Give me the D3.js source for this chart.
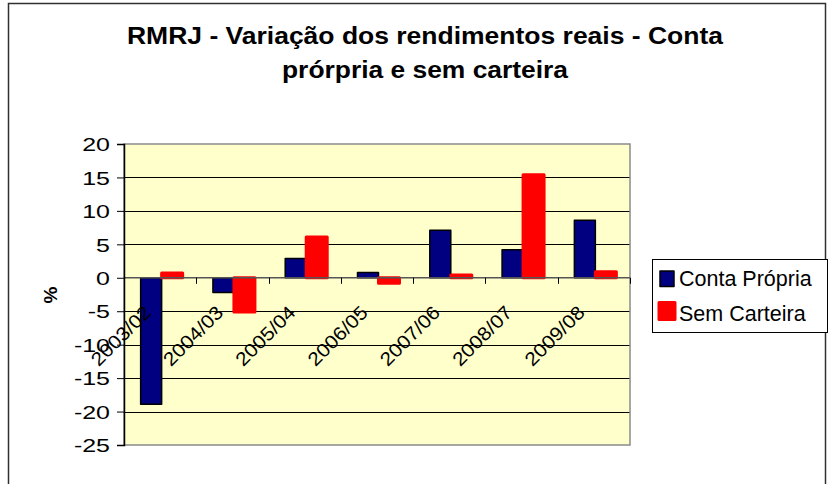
<!DOCTYPE html>
<html>
<head>
<meta charset="utf-8">
<script src="https://cdn.jsdelivr.net/npm/d3@7"></script>
<style>
  html, body { margin: 0; padding: 0; background: #ffffff; }
  svg { display: block; font-family: "Liberation Sans", Arial, sans-serif; }
</style>
</head>
<body>
<svg id="chart" width="829" height="484"></svg>
<script>
// Periods compared (year over previous year)
const categories = ["2003/02", "2004/03", "2005/04", "2006/05", "2007/06", "2008/07", "2009/08"];
const seriesNames = ["Conta Própria", "Sem Carteira"];
// Real income variation, % — own-account workers
const contaPropria = [-18.9, -2.2, 2.9, 0.8, 7.1, 4.2, 8.6];
// Real income variation, % — employees without a signed work card
const semCarteira = [0.7, -5.1, 6.1, -0.8, 0.4, 15.4, 0.9];
const yTicks = [20, 15, 10, 5, 0, -5, -10, -15, -20, -25];
const titleLines = ["RMRJ - Variação dos rendimentos reais - Conta", "prórpria e sem carteira"];

const svg = d3.select("#chart");

// Outer chart frame
svg.append("rect")
  .attr("x", 8.5).attr("y", 3.5)
  .attr("width", 817).attr("height", 500)
  .attr("fill", "#ffffff").attr("stroke", "#303030").attr("stroke-width", 1.5);

// Title
const titleW = [596, 286];
svg.append("g").selectAll("text")
  .data(titleLines)
  .join("text")
  .attr("x", (d, i) => 425 - titleW[i] / 2)
  .attr("y", (d, i) => 43.5 + i * 34)
  .attr("textLength", (d, i) => titleW[i])
  .attr("lengthAdjust", "spacingAndGlyphs")
  .attr("font-size", 23)
  .attr("font-weight", "bold")
  .attr("fill", "#000")
  .text(d => d);

// Plot area
const plot = { left: 124, right: 630, top: 144, bottom: 445 };

const x0 = d3.scaleBand()
  .domain(categories)
  .range([plot.left, plot.right])
  .padding(0);

const y = d3.scaleLinear()
  .domain([-25, 20])
  .range([plot.bottom, plot.top]);

const x1 = d3.scaleBand()
  .domain(seriesNames)
  .range([x0.bandwidth() / 2 - 19.5, x0.bandwidth() / 2 + 22.5])
  .padding(0);

svg.append("rect")
  .attr("x", plot.left).attr("y", plot.top)
  .attr("width", plot.right - plot.left).attr("height", plot.bottom - plot.top)
  .attr("fill", "#ffffcc");

// Horizontal gridlines
svg.append("g").selectAll("line")
  .data(yTicks.filter(v => v !== 20 && v !== -25 && v !== 0))
  .join("line")
  .attr("x1", plot.left).attr("x2", plot.right)
  .attr("y1", d => Math.round(y(d)) + 0.5).attr("y2", d => Math.round(y(d)) + 0.5)
  .attr("stroke", "#000").attr("stroke-width", 1);

// Plot border
svg.append("rect")
  .attr("x", plot.left).attr("y", plot.top)
  .attr("width", plot.right - plot.left).attr("height", plot.bottom - plot.top)
  .attr("fill", "none").attr("stroke", "#8a8a8a").attr("stroke-width", 1.5);

// Bars
const values = { "Conta Própria": contaPropria, "Sem Carteira": semCarteira };
const colors = { "Conta Própria": "#000080", "Sem Carteira": "#ff0000" };
const strokes = { "Conta Própria": "#000000", "Sem Carteira": "#ff0000" };
const strokeW = { "Conta Própria": 1.5, "Sem Carteira": 3 };

seriesNames.forEach(name => {
  svg.append("g").selectAll("rect")
    .data(categories.map((c, i) => ({ c, v: values[name][i] })))
    .join("rect")
    .attr("x", d => x0(d.c) + x1(name))
    .attr("width", x1.bandwidth())
    .attr("y", d => y(Math.max(0, d.v)))
    .attr("height", d => Math.abs(y(d.v) - y(0)))
    .attr("fill", colors[name])
    .attr("stroke", strokes[name])
    .attr("stroke-width", strokeW[name])
    .attr("stroke-linejoin", "round");
});

// Category axis along zero
const xAxis = svg.append("g");
xAxis.append("line")
  .attr("x1", plot.left).attr("x2", plot.right)
  .attr("y1", y(0)).attr("y2", y(0))
  .attr("stroke", "#555").attr("stroke-width", 1.5);
xAxis.selectAll("line.tick")
  .data(categories.slice(1).map(c => x0(c)).concat([plot.right]))
  .join("line")
  .attr("class", "tick")
  .attr("x1", d => Math.round(d) + 0.5).attr("x2", d => Math.round(d) + 0.5)
  .attr("y1", y(0)).attr("y2", y(0) + 6)
  .attr("stroke", "#000").attr("stroke-width", 1);

xAxis.selectAll("text")
  .data(categories)
  .join("text")
  .attr("transform", c => `translate(${x0(c) + x0.bandwidth() / 2 - 8},${y(0) + 36}) rotate(-45) scale(1.1,1)`)
  .attr("text-anchor", "end")
  .attr("font-size", 19)
  .attr("fill", "#000")
  .text(c => c);

// Value axis
const yAxis = svg.append("g")
  .attr("transform", `translate(${plot.left},0)`)
  .call(d3.axisLeft(y).tickValues(yTicks).tickSize(7).tickFormat(d => String(d)));
yAxis.select(".domain").attr("stroke", "#000").attr("stroke-width", 1.5);
yAxis.selectAll(".tick line").attr("stroke", "#000");
yAxis.selectAll(".tick text")
  .attr("x", 0)
  .attr("dy", "0.36em")
  .attr("transform", "translate(-14,0) scale(1.35,1)")
  .attr("font-size", 18.5)
  .attr("font-family", "Liberation Sans, Arial, sans-serif")
  .attr("fill", "#000");

svg.append("text")
  .attr("transform", "translate(57,295) rotate(-90)")
  .attr("text-anchor", "middle")
  .attr("font-size", 19)
  .attr("font-weight", "bold")
  .text("%");

// Legend
const legend = svg.append("g");
legend.append("rect")
  .attr("x", 652.5).attr("y", 259.5)
  .attr("width", 175).attr("height", 73)
  .attr("fill", "#ffffff").attr("stroke", "#000").attr("stroke-width", 1);
const items = legend.selectAll("g.item")
  .data(seriesNames)
  .join("g")
  .attr("class", "item")
  .attr("transform", (d, i) => `translate(0,${i * 35})`);
items.append("rect")
  .attr("x", d => d === "Sem Carteira" ? 659 : 660)
  .attr("y", d => d === "Sem Carteira" ? 267.5 : 271)
  .attr("width", d => d === "Sem Carteira" ? 16 : 14)
  .attr("height", d => d === "Sem Carteira" ? 17 : 15.5)
  .attr("fill", d => colors[d])
  .attr("stroke", d => strokes[d])
  .attr("stroke-width", d => d === "Sem Carteira" ? 3 : 1.5)
  .attr("stroke-linejoin", "round");
items.append("text")
  .attr("x", 679)
  .attr("y", 286)
  .attr("font-size", 21.5)
  .attr("fill", "#000")
  .text(d => d);
</script>
</body>
</html>
